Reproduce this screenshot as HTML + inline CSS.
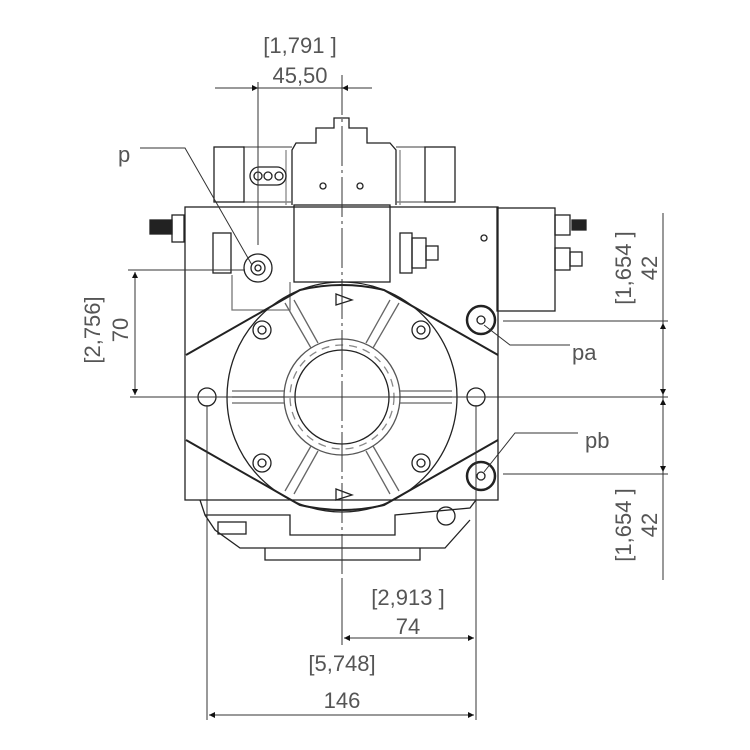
<!DOCTYPE html>
<html><head><style>body{margin:0;background:#fff}svg{display:block}text{font-family:"Liberation Sans",sans-serif;fill:#555}</style></head><body>
<svg width="750" height="750" viewBox="0 0 750 750" xmlns="http://www.w3.org/2000/svg">
<defs>
<marker id="a" viewBox="0 0 10 10" refX="10" refY="5" markerWidth="14" markerHeight="6" orient="auto-start-reverse" markerUnits="userSpaceOnUse"><path d="M0,0L10,5L0,10z" fill="#111"/></marker>
</defs>
<g fill="none" stroke="#222" stroke-width="1.3">
<rect x="185" y="207" width="313" height="293"/>
<path d="M292,205 V150 L296,143 H316 V128 H334 V118 H349 V128 H367 V143 H390 L396,150 V205"/>
<path d="M243,147 H292 M396,147 H425 M243,202 H292 M396,202 H425" stroke="#666"/>
<path d="M286,150 V205 M400,150 V205" stroke="#888"/>
<rect x="294" y="205" width="96" height="77"/>
<rect x="214" y="147" width="30" height="55"/>
<rect x="425" y="147" width="30" height="55"/>
<rect x="250" y="167" width="36" height="18" rx="9"/>
<circle cx="258" cy="176" r="4"/><circle cx="268" cy="176" r="4"/><circle cx="279" cy="176" r="4"/>
<circle cx="323" cy="186" r="3"/><circle cx="360" cy="186" r="3"/>
<rect x="497" y="208" width="58" height="103"/>
<rect x="555" y="215" width="15" height="20"/><rect x="555" y="248" width="15" height="22"/>
<rect x="570" y="252" width="12" height="14"/>
<rect x="572" y="220" width="14" height="10" fill="#222"/>
<rect x="172" y="215" width="12" height="27"/>
<rect x="150" y="220" width="22" height="14" fill="#222"/>
<rect x="213" y="233" width="18" height="40"/>
<path d="M232,275 V310 H290 V282" stroke="#777"/>
<rect x="400" y="233" width="12" height="40"/><rect x="412" y="238" width="14" height="30"/><rect x="426" y="246" width="12" height="14"/>
<circle cx="484" cy="238" r="3"/>
<path d="M186,355 L300,290 Q342,280 384,290 L498,355" stroke-width="2"/>
<path d="M186,440 L300,505 Q342,515 384,505 L498,440" stroke-width="2"/>
<circle cx="342" cy="397" r="115"/>
<circle cx="342" cy="397" r="58" stroke="#555"/>
<circle cx="342" cy="397" r="47"/>
<circle cx="342" cy="397" r="52" stroke="#888" stroke-dasharray="8 6"/>
<g stroke="#666">
<path d="M284,397 H232 M400,397 H452"/><path d="M284,391 H232 M400,391 H452 M284,403 H232 M400,403 H452"/>
<path d="M311,348 L285,303 M373,348 L399,303 M311,446 L285,491 M373,446 L399,491"/>
<path d="M318,343 L294,300 M366,343 L390,300 M318,451 L294,494 M366,451 L390,494"/>
</g>
<path d="M336,294 L352,300 L336,305 Z"/><path d="M336,489 L352,495 L336,500 Z"/>
<circle cx="262" cy="330" r="9"/><circle cx="262" cy="330" r="4"/>
<circle cx="421" cy="330" r="9"/><circle cx="421" cy="330" r="4"/>
<circle cx="262" cy="463" r="9"/><circle cx="262" cy="463" r="4"/>
<circle cx="421" cy="463" r="9"/><circle cx="421" cy="463" r="4"/>
<circle cx="207" cy="397" r="9"/><circle cx="476" cy="397" r="9"/>
<circle cx="481" cy="320" r="14" stroke-width="2.5"/><circle cx="481" cy="320" r="4"/>
<circle cx="481" cy="476" r="14" stroke-width="2.5"/><circle cx="481" cy="476" r="4"/>
<circle cx="258" cy="268" r="14"/><circle cx="258" cy="268" r="7"/><circle cx="258" cy="268" r="3"/>
<path d="M200,500 L205,515 H290 V535 H395 V515 L470,508 L476,500"/>
<path d="M205,515 L215,530 L240,548 H445 L470,520"/>
<path d="M265,548 V560 H420 V548"/>
<rect x="218" y="522" width="28" height="12"/>
<circle cx="446" cy="516" r="9"/>
<g stroke="#333" stroke-width="1">
<path d="M342,75 V580" stroke-dasharray="40 4 3 4"/>
<path d="M130,397 H668"/>
<path d="M258,82 V245"/>
<path d="M207,405 V720"/><path d="M476,405 V720"/><path d="M342,580 V645"/>
<path d="M128,270 H245"/>
<path d="M135,272 V395" marker-start="url(#a)" marker-end="url(#a)"/>
<path d="M215,88 H258" marker-end="url(#a)"/>
<path d="M258,88 H342"/>
<path d="M372,88 H342" marker-end="url(#a)"/>
<path d="M663,213 V580"/>
<path d="M503,321 H668"/><path d="M503,474 H668"/>
<path d="M663,323 V395" marker-start="url(#a)" marker-end="url(#a)"/>
<path d="M663,399 V472" marker-start="url(#a)" marker-end="url(#a)"/>
<path d="M344,638 H474" marker-start="url(#a)" marker-end="url(#a)"/>
<path d="M209,715 H474" marker-start="url(#a)" marker-end="url(#a)"/>
<path d="M140,148 H185 L252,265"/>
<path d="M484,325 L510,345 H570"/>
<path d="M484,472 L515,433 H578"/>
</g>
</g>
<g font-size="22">
<text x="300" y="53" text-anchor="middle">[1,791 ]</text>
<text x="300" y="83" text-anchor="middle">45,50</text>
<text x="118" y="162">p</text>
<text x="572" y="360">pa</text>
<text x="585" y="448">pb</text>
<text x="408" y="605" text-anchor="middle">[2,913 ]</text>
<text x="408" y="634" text-anchor="middle">74</text>
<text x="342" y="671" text-anchor="middle">[5,748]</text>
<text x="342" y="708" text-anchor="middle">146</text>
<text transform="translate(100,330) rotate(-90)" text-anchor="middle">[2,756]</text>
<text transform="translate(128,330) rotate(-90)" text-anchor="middle">70</text>
<text transform="translate(631,268) rotate(-90)" text-anchor="middle">[1,654 ]</text>
<text transform="translate(657,268) rotate(-90)" text-anchor="middle">42</text>
<text transform="translate(631,525) rotate(-90)" text-anchor="middle">[1,654 ]</text>
<text transform="translate(657,525) rotate(-90)" text-anchor="middle">42</text>
</g>
</svg>
</body></html>
